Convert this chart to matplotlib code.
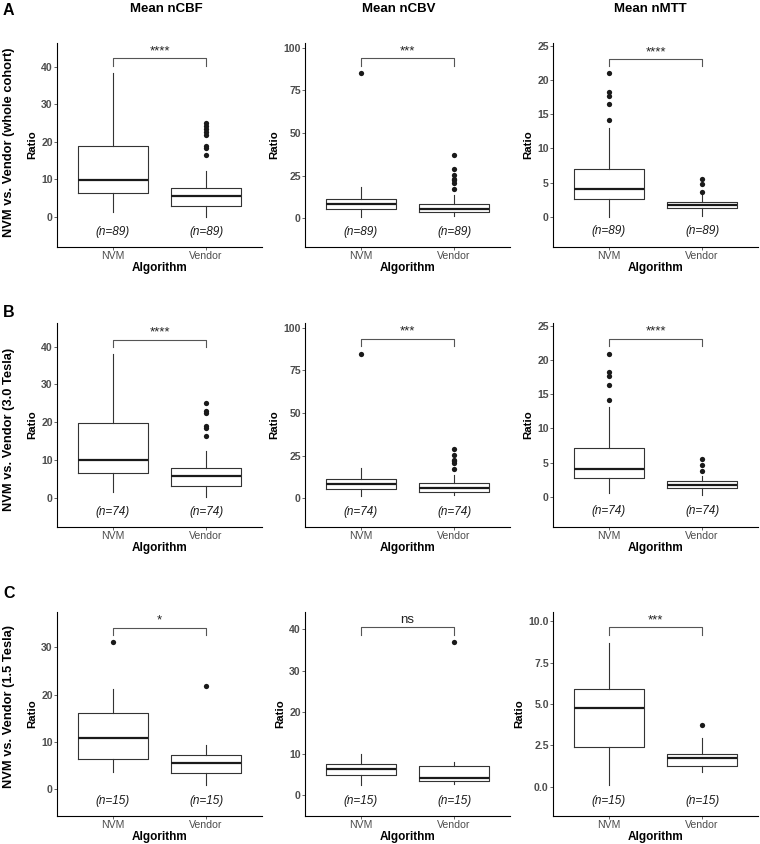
import matplotlib.pyplot as plt

plt.rcParams['font.family'] = ['Liberation Sans', 'DejaVu Sans']

# five-number summaries per panel: [whisker low, Q1, median, Q3, whisker high]
metrics = ['Mean nCBF', 'Mean nCBV', 'Mean nMTT']
groups = ['NVM', 'Vendor']
row_names = ['NVM vs. Vendor (whole cohort)', 'NVM vs. Vendor (3.0 Tesla)', 'NVM vs. Vendor (1.5 Tesla)']
row_letters = ['A', 'B', 'C']
n_counts = [89, 74, 15]
sig_labels = [['****', '***', '****'],
              ['****', '***', '****'],
              ['*', 'ns', '***']]

whole_nvm = [[1.4, 6.3, 9.9, 19.0, 38.2],
             [1.0, 5.3, 8.4, 11.3, 18.2],
             [0.05, 2.6, 4.0, 7.0, 13.0]]
whole_vendor = [[0.1, 3.0, 5.5, 7.6, 12.2],
                [1.6, 3.5, 5.7, 8.2, 13.7],
                [0.2, 1.3, 1.7, 2.2, 3.2]]
whole_nvm_out = [[], [85.0], [14.2, 16.5, 17.6, 18.2, 21.0]]
whole_vendor_out = [[16.5, 18.3, 18.8, 21.8, 22.5, 23.3, 24.2, 25.0],
                    [17.4, 20.9, 22.3, 22.9, 25.4, 29.1, 36.9],
                    [3.7, 4.8, 5.5]]

t3_nvm = [[1.6, 6.4, 10.0, 19.9, 38.1],
          [1.2, 5.7, 8.6, 11.5, 17.8],
          [0.6, 2.75, 4.0, 7.2, 13.1]]
t3_vendor = [[0.2, 3.2, 5.7, 7.9, 12.3],
             [2.1, 3.7, 5.9, 9.0, 13.9],
             [0.25, 1.3, 1.8, 2.3, 3.1]]
t3_nvm_out = [[], [84.8], [14.1, 16.4, 17.6, 18.2, 20.9]]
t3_vendor_out = [[16.4, 18.4, 19.1, 22.5, 23.0, 25.0],
                 [17.4, 20.7, 21.7, 22.5, 25.2, 29.1],
                 [3.8, 4.7, 5.5]]

t15_nvm = [[3.6, 6.4, 10.8, 16.1, 21.3],
           [2.5, 4.8, 6.3, 7.5, 9.9],
           [0.08, 2.38, 4.78, 5.9, 8.7]]
t15_vendor = [[0.9, 3.5, 5.6, 7.3, 9.5],
              [2.7, 3.45, 4.25, 7.05, 8.1],
              [0.87, 1.23, 1.71, 2.0, 2.92]]
t15_nvm_out = [[31.1], [], []]
t15_vendor_out = [[21.8], [36.8], [3.75]]

nvm_rows = [whole_nvm, t3_nvm, t15_nvm]
vendor_rows = [whole_vendor, t3_vendor, t15_vendor]
nvm_out_rows = [whole_nvm_out, t3_nvm_out, t15_nvm_out]
vendor_out_rows = [whole_vendor_out, t3_vendor_out, t15_vendor_out]

# axis ranges, ticks, bracket and n-label heights (layout)
ylims = [[(-8.0, 46.3), (-16.8, 102.7), (-4.4, 25.4)],
         [(-7.8, 46.3), (-16.8, 102.7), (-4.4, 25.4)],
         [(-5.6, 37.5), (-5.0, 44.1), (-1.77, 10.57)]]
yticks = [[[0, 10, 20, 30, 40], [0, 25, 50, 75, 100], [0, 5, 10, 15, 20, 25]],
          [[0, 10, 20, 30, 40], [0, 25, 50, 75, 100], [0, 5, 10, 15, 20, 25]],
          [[0, 10, 20, 30], [0, 10, 20, 30, 40], [0.0, 2.5, 5.0, 7.5, 10.0]]]
bracket_y = [[42.2, 93.7, 23.05],
             [41.9, 93.4, 23.1],
             [34.2, 40.4, 9.64]]
n_y = [[-3.9, -7.8, -2.1],
       [-3.7, -7.8, -2.1],
       [-2.4, -1.3, -0.85]]

W, H = 760, 844
fig = plt.figure(figsize=(W / 100, H / 100), dpi=100)


def fx(x):
    return x / W


def fy(y):
    return 1 - y / H


col_left = [57, 305, 553]
row_top = [43, 323, 612]
aw, ah = 205, 204
dark = '#333333'

for r in range(3):
    for c in range(3):
        ax = fig.add_axes([fx(col_left[c]), fy(row_top[r] + ah), aw / W, ah / H])
        nv = nvm_rows[r][c]
        vd = vendor_rows[r][c]
        stats = [
            dict(whislo=nv[0], q1=nv[1], med=nv[2], q3=nv[3], whishi=nv[4], fliers=nvm_out_rows[r][c]),
            dict(whislo=vd[0], q1=vd[1], med=vd[2], q3=vd[3], whishi=vd[4], fliers=vendor_out_rows[r][c]),
        ]
        ax.bxp(stats, positions=[1, 2], widths=0.75, showcaps=False,
               boxprops=dict(color=dark, lw=0.8),
               whiskerprops=dict(color=dark, lw=0.8),
               medianprops=dict(color='#1a1a1a', lw=1.6),
               flierprops=dict(marker='o', markerfacecolor='#1a1a1a',
                               markeredgecolor='none', markersize=3.8))

        # significance bracket
        by = bracket_y[r][c]
        lo, hi = ylims[r][c]
        dt = (hi - lo) * 0.035
        ax.plot([1, 1, 2, 2], [by - dt, by, by, by - dt], color='#555555', lw=0.8)
        ax.text(1.5, by + (hi - lo) * 0.005, sig_labels[r][c], ha='center', va='bottom',
                fontsize=9.5, color='#222222')

        for i in range(2):
            ax.text(i + 1, n_y[r][c], '(n=%d)' % n_counts[r], ha='center', va='center',
                    fontsize=8.5, style='italic', color='#1a1a1a')

        ax.set_xlim(0.4, 2.6)
        ax.set_ylim(lo, hi)
        ax.set_yticks(yticks[r][c])
        if r == 2 and c == 2:
            ax.set_yticklabels(['%.1f' % t for t in yticks[r][c]])
        ax.set_xticks([1, 2], groups)
        for s in ['top', 'right']:
            ax.spines[s].set_visible(False)
        for s in ['left', 'bottom']:
            ax.spines[s].set_linewidth(0.8)
            ax.spines[s].set_color('black')
        ax.tick_params(length=2, width=0.6, color='#4d4d4d', labelcolor='#4d4d4d',
                       labelsize=7.6)
        ax.tick_params(axis='y', pad=1)
        ax.tick_params(axis='x', pad=1)
        for lab in ax.get_yticklabels():
            lab.set_fontweight('bold')
        ax.set_ylabel('Ratio', fontweight='bold', fontsize=8.2, labelpad=3)
        ax.set_xlabel('Algorithm', fontweight='bold', fontsize=8.5, labelpad=0.5)

# column titles
for c, cx in enumerate([166, 399, 650]):
    fig.text(fx(cx), fy(9.5), metrics[c], ha='center', va='center', fontsize=9.5, fontweight='bold')

# row labels and panel letters
for r, (cy, ly) in enumerate([(142.5, 15), (429, 317), (707, 598)]):
    fig.text(fx(9), fy(cy), row_names[r], rotation=90, ha='center', va='center',
             fontsize=9.3, fontweight='bold')
    fig.text(fx(3), fy(ly), row_letters[r], ha='left', va='baseline',
             fontsize=11.5, fontweight='bold')

fig.savefig('out.png', dpi=100)
